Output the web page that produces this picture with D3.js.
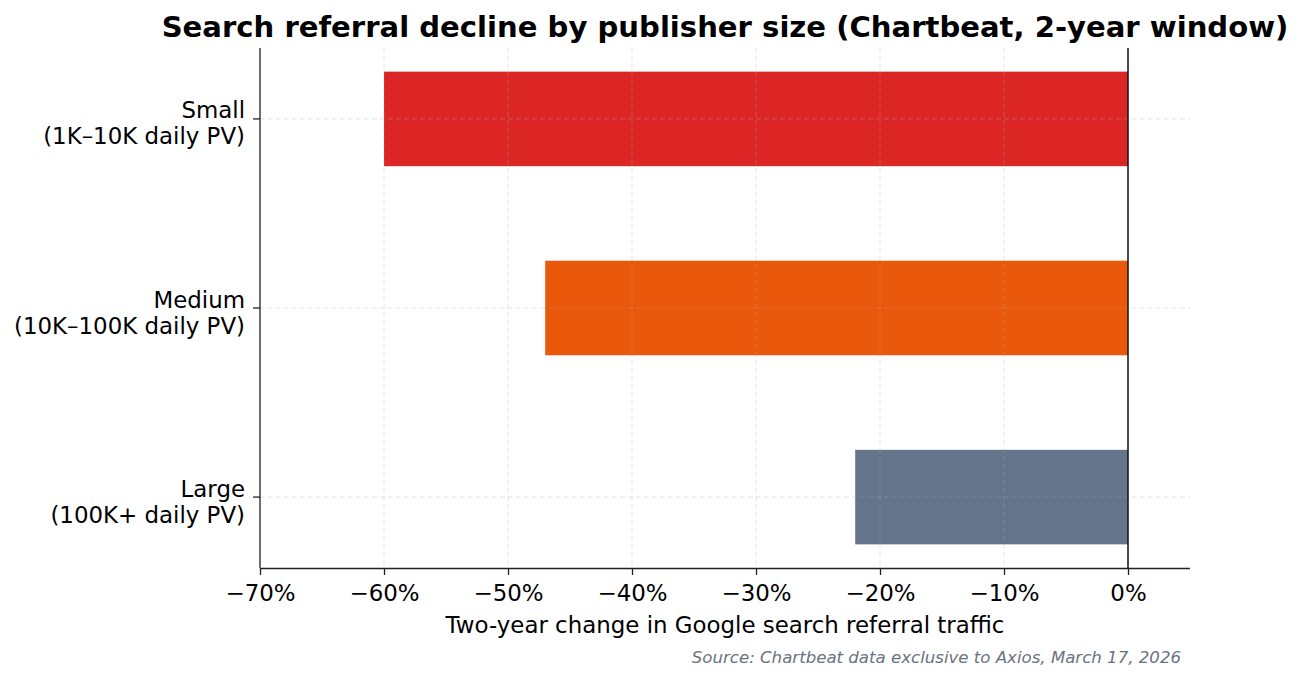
<!DOCTYPE html>
<html><head><meta charset="utf-8">
<script src="https://cdn.jsdelivr.net/npm/d3@7/dist/d3.min.js"></script>
<style>
html,body{margin:0;padding:0;background:#fff;}
svg{display:block;font-family:"DejaVu Sans",sans-serif;}
</style></head>
<body><svg id="chart" width="1304" height="681"></svg>
<script>
const categories = ["Small\n(1K–10K daily PV)", "Medium\n(10K–100K daily PV)", "Large\n(100K+ daily PV)"];
const values = [-60, -47, -22];
const colors = ["#dc2626", "#ea580c", "#64748b"];
const xTicks = [-70, -60, -50, -40, -30, -20, -10, 0];
const title = "Search referral decline by publisher size (Chartbeat, 2-year window)";
const xLabel = "Two-year change in Google search referral traffic";
const source = "Source: Chartbeat data exclusive to Axios, March 17, 2026";

const svg = d3.select("#chart");
const L = 260, R = 1190, T = 48, B = 568;
const FS = 22.9;

const x = d3.scaleLinear().domain([-70, 5]).range([L, R]);
const y = d3.scaleLinear().domain([-0.375, 2.375]).range([T, B]);
const bh = y(0.5) - y(0);

// bars
svg.append("g").selectAll("rect").data(values).join("rect")
  .attr("x", d => x(d)).attr("width", d => x(0) - x(d))
  .attr("y", (d, i) => y(i) - bh / 2).attr("height", bh)
  .attr("fill", (d, i) => colors[i]);

// grid (on top, faint)
const grid = svg.append("g").attr("stroke", "#b0b0b0").attr("stroke-opacity", 0.3)
  .attr("stroke-width", 1.1).attr("stroke-dasharray", "5,3");
grid.selectAll(".gx").data(xTicks).join("line")
  .attr("x1", d => x(d)).attr("x2", d => x(d)).attr("y1", T).attr("y2", B);
grid.selectAll(".gy").data(categories).join("line")
  .attr("x1", L).attr("x2", R).attr("y1", (d, i) => y(i)).attr("y2", (d, i) => y(i));

// zero line
svg.append("line").attr("x1", x(0)).attr("x2", x(0)).attr("y1", T).attr("y2", B)
  .attr("stroke", "#111").attr("stroke-width", 1.5);

// x axis
const xAxis = d3.axisBottom(x).tickValues(xTicks).tickSize(7).tickPadding(10)
  .tickFormat(d => (d < 0 ? "\u2212" + Math.abs(d) : d) + "%");
const gx = svg.append("g").attr("transform", `translate(0,${B})`).call(xAxis);
gx.select(".domain").attr("stroke", "#222").attr("stroke-width", 1.3).attr("d", `M${L},0.5H${R}`);
gx.selectAll(".tick line").attr("stroke", "#222").attr("stroke-width", 1.3);
gx.selectAll(".tick text").attr("font-size", FS).attr("fill", "#000")
  .attr("font-family", "DejaVu Sans");

// y axis
const gy = svg.append("g").attr("transform", `translate(${L},0)`);
gy.append("line").attr("x1", 0).attr("x2", 0).attr("y1", T).attr("y2", B)
  .attr("stroke", "#222").attr("stroke-width", 1.3);
const yt = gy.selectAll(".yt").data(categories).join("g")
  .attr("transform", (d, i) => `translate(0,${y(i)})`);
yt.append("line").attr("x1", -7).attr("x2", 0).attr("stroke", "#222").attr("stroke-width", 1.3);
yt.each(function(d) {
  const lines = d.split("\n");
  const t = d3.select(this).append("text").attr("text-anchor", "end")
    .attr("font-size", FS).attr("fill", "#000");
  lines.forEach((ln, k) => {
    t.append("tspan").attr("x", -15).attr("y", k === 0 ? -0.5 : 25.5).text(ln);
  });
});

// title
svg.append("text").attr("x", (L + R) / 2).attr("y", 37).attr("text-anchor", "middle")
  .attr("font-size", 29.1).attr("font-weight", "bold").attr("fill", "#000").text(title);

// x label
svg.append("text").attr("x", (L + R) / 2).attr("y", 633).attr("text-anchor", "middle")
  .attr("font-size", FS).attr("fill", "#000").text(xLabel);

// source
svg.append("text").attr("x", 1181).attr("y", 663).attr("text-anchor", "end")
  .attr("font-size", 16.6).attr("font-style", "italic").attr("fill", "#6b7280").text(source);
</script>
</body></html>
